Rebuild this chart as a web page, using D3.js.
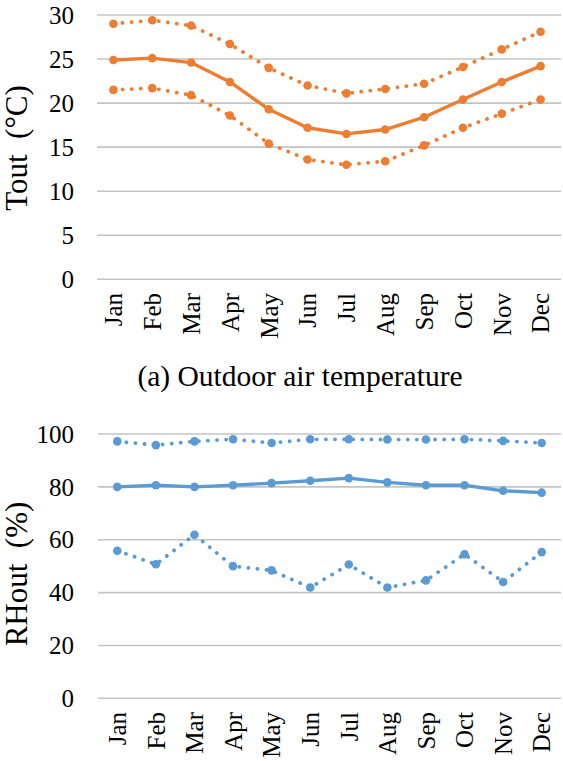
<!DOCTYPE html>
<html>
<head>
<meta charset="utf-8">
<script src="https://cdn.jsdelivr.net/npm/d3@7"></script>
<style>
  body { margin: 0; background: #fff; }
  svg text { font-family: "Liberation Serif", "Times New Roman", Tinos, "DejaVu Serif", serif; fill: #000; }
</style>
</head>
<body>
<div id="chart"></div>
<script>
var months = ["Jan","Feb","Mar","Apr","May","Jun","Jul","Aug","Sep","Oct","Nov","Dec"];

// (a) outdoor air temperature, degC
var toutMax  = [29.0, 29.4, 28.8, 26.7, 24.0, 22.0, 21.1, 21.6, 22.2, 24.1, 26.1, 28.1];
var toutMean = [24.9, 25.1, 24.6, 22.4, 19.3, 17.2, 16.5, 17.0, 18.4, 20.4, 22.4, 24.2];
var toutMin  = [21.5, 21.7, 20.9, 18.6, 15.4, 13.6, 13.0, 13.4, 15.2, 17.2, 18.8, 20.4];
var toutTicks = [0, 5, 10, 15, 20, 25, 30];

// outdoor relative humidity, %
var rhMax  = [97.2, 95.8, 97.2, 98.0, 96.6, 98.0, 98.0, 97.9, 97.9, 98.0, 97.4, 96.6];
var rhMean = [80.0, 80.6, 80.0, 80.6, 81.4, 82.3, 83.3, 81.7, 80.6, 80.6, 78.5, 77.8];
var rhMin  = [55.8, 50.7, 61.9, 50.0, 48.4, 41.9, 50.6, 41.9, 44.6, 54.5, 44.0, 55.3];
var rhTicks = [0, 20, 40, 60, 80, 100];

var orange = "#ed7d31", blue = "#5b9bd5";
var serif = "'Liberation Serif', 'Times New Roman', Tinos, 'DejaVu Serif', serif";

var svg = d3.select("#chart").append("svg")
    .attr("width", 563)
    .attr("height", 761);

function drawPanel(opt) {
    var g = svg.append("g")
        .attr("font-family", serif);

    var x = d3.scaleBand()
        .domain(months)
        .range(opt.xRange);

    var y = d3.scaleLinear()
        .domain([0, d3.max(opt.ticks)])
        .range(opt.yRange);

    // gridlines
    g.selectAll(".grid")
        .data(opt.ticks)
        .enter().append("line")
        .attr("x1", opt.gridX[0])
        .attr("x2", opt.gridX[1])
        .attr("y1", function(d) { return y(d); })
        .attr("y2", function(d) { return y(d); })
        .attr("stroke", "#c4c4c4")
        .attr("stroke-width", 1.6);

    // y tick labels
    g.selectAll(".ytick")
        .data(opt.ticks)
        .enter().append("text")
        .attr("x", 74)
        .attr("y", function(d) { return y(d); })
        .attr("dy", "0.35em")
        .attr("text-anchor", "end")
        .attr("font-family", serif)
        .attr("font-size", 25)
        .text(function(d) { return d; });

    // month labels, rotated
    g.selectAll(".xtick")
        .data(months)
        .enter().append("text")
        .attr("transform", function(d) {
            return "translate(" + (x(d) + x.bandwidth() / 2) + "," + opt.labelTop + ") rotate(-90)";
        })
        .attr("dy", "0.35em")
        .attr("text-anchor", "end")
        .attr("font-family", serif)
        .attr("font-size", 25)
        .text(function(d) { return d; });

    // axis title
    g.append("text")
        .attr("transform", "translate(27," + opt.titleY + ") rotate(-90)")
        .attr("text-anchor", "middle")
        .attr("font-family", serif)
        .attr("font-size", 31)
        .style("white-space", "pre")
        .text(opt.title);

    var line = d3.line()
        .x(function(d, i) { return x(months[i]) + x.bandwidth() / 2; })
        .y(function(d) { return y(d); });

    opt.series.forEach(function(s) {
        g.append("path")
            .datum(s.values)
            .attr("fill", "none")
            .attr("stroke", opt.color)
            .attr("stroke-width", s.dotted ? 3.8 : 3.4)
            .attr("stroke-linecap", "round")
            .attr("stroke-linejoin", "round")
            .attr("stroke-dasharray", s.dotted ? "0.1,9" : null)
            .attr("d", line);

        g.selectAll(null)
            .data(s.values)
            .enter().append("circle")
            .attr("cx", function(d, i) { return x(months[i]) + x.bandwidth() / 2; })
            .attr("cy", function(d) { return y(d); })
            .attr("r", 4.3)
            .attr("fill", opt.color);
    });
}

drawPanel({
    xRange: [94, 560],
    gridX: [97, 561],
    yRange: [279.3, 15],
    ticks: toutTicks,
    labelTop: 293,
    titleY: 148,
    title: "Tout  (°C)",
    color: orange,
    series: [
        { values: toutMax, dotted: true },
        { values: toutMean, dotted: false },
        { values: toutMin, dotted: true }
    ]
});

svg.append("text")
    .attr("x", 300)
    .attr("y", 386)
    .attr("text-anchor", "middle")
    .attr("font-family", serif)
    .attr("font-size", 29.5)
    .text("(a) Outdoor air temperature");

drawPanel({
    xRange: [98, 561],
    gridX: [98, 561],
    yRange: [698.3, 434],
    ticks: rhTicks,
    labelTop: 712,
    titleY: 574,
    title: "RHout  (%)",
    color: blue,
    series: [
        { values: rhMax, dotted: true },
        { values: rhMean, dotted: false },
        { values: rhMin, dotted: true }
    ]
});
</script>
</body>
</html>
